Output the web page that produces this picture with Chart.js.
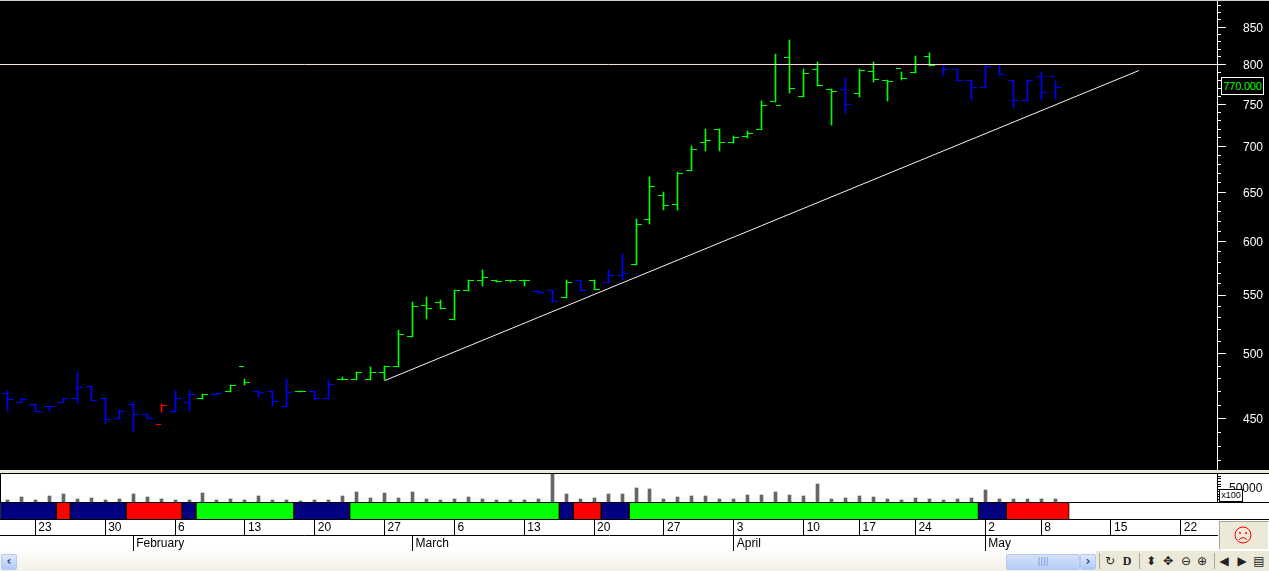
<!DOCTYPE html>
<html>
<head>
<meta charset="utf-8">
<title>Chart</title>
<script src="https://cdn.jsdelivr.net/npm/chart.js@4"></script>
<style>
    html, body { margin: 0; padding: 0; width: 1269px; height: 571px; overflow: hidden; background: #fff; font-family: "Liberation Sans", Arial, sans-serif; }
    canvas, .abs { position: absolute; display: block; }
    #priceBox { left: 1221px; top: 77px; width: 41px; height: 16px; border: 1px solid #fff; background: #000; color: #0f0; font-size: 11px; line-height: 16px; text-align: center; letter-spacing: -0.2px; }
    #unitBox { left: 1219px; top: 489px; width: 22px; height: 11px; border: 1px solid #000; background: #fff; color: #000; font-size: 9px; line-height: 11px; text-align: center; }
    #band { left: 0; top: 502px; width: 1269px; height: 18px; box-sizing: border-box; border-top: 1px solid #000; border-bottom: 1px solid #000; background: #fff; }
    #face { left: 1219px; top: 521px; width: 48px; height: 27px; background: #ece9d8; border: 1px solid; border-color: #aca899 #fff #fff #aca899; }
    #scroll { left: 0; top: 551px; width: 1096px; height: 20px; background: linear-gradient(#fdfdfb, #f1efe6); }
    #tools { left: 1096px; top: 551px; width: 173px; height: 20px; background: #ece9d8; }
    .btn { top: 3px; width: 14px; height: 14px; border: 1px solid #b4c8f0; border-radius: 2px; background: linear-gradient(#dfe8fc, #b0c8f6); color: #2a4a8a; font: bold 12px/13px "DejaVu Sans", sans-serif; text-align: center; }
    #thumb { left: 1006px; top: 3px; width: 72px; height: 14px; border: 1px solid #b4c8f0; border-radius: 2px; background: linear-gradient(#d4e0fb, #b8cdf8); color: #6f8fd0; font: 8px/14px "DejaVu Sans", sans-serif; text-align: center; }
    .tool { top: 0; width: 16px; height: 20px; color: #222; font: 12px/20px "DejaVu Sans", sans-serif; text-align: center; }
    .sep { top: 2px; width: 1px; height: 16px; background: #aca899; }
</style>
</head>
<body>
    <canvas id="priceChart" width="1269" height="470" style="left:0;top:0;background:#000"></canvas>
    <div class="abs" style="left:0;top:0;width:1269px;height:1px;background:#d4d0c8"></div>
    <div class="abs" style="left:0;top:470px;width:1269px;height:3px;background:#ece9d8"></div>
    <div class="abs" style="left:0;top:473px;width:1269px;height:1px;background:#000"></div>
    <div class="abs" style="left:0;top:473px;width:1px;height:47px;background:#000"></div>
    <canvas id="volumeChart" width="1269" height="28" style="left:0;top:474px"></canvas>
    <div class="abs" id="band"><canvas id="bandChart" width="1269" height="16" style="left:0;top:0"></canvas></div>
    <canvas id="dateChart" width="1218" height="33" style="left:0;top:518px"></canvas>
    <div class="abs" id="priceBox">770.000</div>
    <div class="abs" id="unitBox">x100</div>
    <div class="abs" id="face">
        <svg width="48" height="27" style="display:block">
            <circle cx="23" cy="13" r="8" fill="none" stroke="#f00"/>
            <circle cx="20" cy="11" r="1" fill="#f00"/>
            <circle cx="26" cy="11" r="1" fill="#f00"/>
            <path d="M19 18 Q23 13 27 18" fill="none" stroke="#f00"/>
        </svg>
    </div>
    <div class="abs" id="scroll">
        <div class="abs btn" style="left:1px">‹</div>
        <div class="abs" id="thumb">||||</div>
        <div class="abs btn" style="left:1080px">›</div>
    </div>
    <div class="abs" id="tools">
        <div class="abs sep" style="left:3px"></div>
        <div class="abs tool" style="left:6px">↻</div>
        <div class="abs tool" style="left:23px;font-family:'Liberation Serif',serif;font-weight:bold">D</div>
        <div class="abs sep" style="left:43px"></div>
        <div class="abs tool" style="left:47px">⬍</div>
        <div class="abs tool" style="left:64px">✥</div>
        <div class="abs tool" style="left:82px">⊖</div>
        <div class="abs tool" style="left:98px">⊕</div>
        <div class="abs sep" style="left:118px"></div>
        <div class="abs tool" style="left:120px">◀</div>
        <div class="abs tool" style="left:138px">▶</div>
        <div class="abs tool" style="left:155px">▤</div>
    </div>

<script>
    // daily bars
    const opens = [
        468.7, 461.9, 460.4, 458.9, 461.9, 464.9, 474.0, 464.9, 450, 460.4,
        452.9, 445.6, 455.2, 461.9, 464.9, 468.0, 470.2, 489.6, 470.2, 470.2,
        458.9, 470.2, 470.2, 464.9, 479.4, 479.4, 479.4, 484.9, 489.6, 514.0,
        540.7, 543.4, 528.5, 554.1, 563.2, 563.2, 563.2, 563.2, 553.2, 554.1,
        547.8, 563.2, 563.2, 561.4, 567.8, 578.0, 621.8, 646.5, 637.2, 673.4,
        704.8, 719.8, 704.8, 711.7, 719.8, 753.3, 809.1, 759.5, 793.5, 768.1,
        768.1, 763.2, 791, 779.5, 794.8, 789.7, 810.5, 800, 793.5, 779.5,
        770.6, 800, 779.5, 754.5, 784.6, 784.6
    ];
    const closes = [
        464.1, 464.1, 455.2, 458.9, 464.9, 473.2, 463.4, 449.3, 455.2, 452.9,
        450, 459.6, 464.9, 468.0, 468.0, 468.7, 474.8, 477.1, 469.4, 462.6,
        469.4, 470.2, 464.9, 475.6, 479.4, 484.9, 484.9, 489.6, 515.6, 539.8,
        538.1, 538.1, 554.1, 563.2, 565.9, 562.3, 563.2, 563.2, 552.3, 544.3,
        561.4, 554.1, 555.0, 567.8, 569.6, 616.8, 656.1, 636.1, 670.2, 696.8,
        707.1, 704.8, 710.5, 715.2, 748.4, 748.4, 769.4, 788.4, 773.1, 765.7,
        749.6, 792.2, 780.7, 778.2, 782.0, null, 798.7, 793.5, 779.5, 770.6,
        797.4, 787.1, 754.5, 779.5, 764.4, 770.6
    ];
    const highs = [
        470.2, 464.9, 460.4, 458.9, 464.9, 484.9, 474.0, 464.9, 455.9, 461.9,
        452.9, 460.4, 470.2, 470.2, 468.0, 468.7, 474.8, 479.4, 470.2, 470.2,
        479.4, 470.2, 470.2, 478.6, 481.0, 484.9, 488.9, 489.6, 519.0, 543.4,
        547.8, 545.1, 554.1, 563.2, 572.4, 563.2, 563.2, 563.2, 553.2, 554.1,
        563.2, 563.2, 563.2, 572.4, 587.5, 621.8, 665.8, 649.8, 671.2, 700.2,
        719.8, 719.8, 711.7, 717.5, 753.3, 813.1, 831.8, 793.5, 802.6, 768.1,
        782.0, 793.5, 802.6, 779.5, 789.7, 810.5, 814.4, 798.7, 793.5, 779.5,
        797.4, 798.7, 779.5, 779.5, 789.7, 778.2
    ];
    const lows = [
        455.9, 461.9, 455.2, 455.9, 461.9, 461.9, 463.4, 446.4, 450, 441.3,
        450, 455.2, 455.2, 455.9, 464.9, 468.0, 470.2, 475.6, 466.4, 459.6,
        458.9, 470.2, 464.1, 464.9, 479.4, 479.4, 479.4, 479.4, 489.6, 514.0,
        529.4, 538.1, 528.5, 554.1, 558.7, 562.3, 562.3, 558.7, 551.4, 544.3,
        547.8, 554.1, 555.0, 561.4, 564.1, 578.0, 617.8, 632.0, 632.0, 673.4,
        695.7, 695.7, 704.8, 710.5, 719.8, 753.3, 764.4, 759.5, 773.1, 725.7,
        740.0, 759.5, 778.2, 754.5, 780.7, 789.7, 798.7, 785.8, 779.5, 755.8,
        770.6, 787.1, 746.0, 754.5, 755.8, 757.0
    ];
    const barStates = [
        'd', 'd', 'd', 'd', 'd', 'd', 'd', 'd', 'd', 'd', 'd', 'x', 'd', 'd', 'u', 'd', 'u', 'u', 'd', 'd',
        'd', 'u', 'd', 'd', 'u', 'u', 'u', 'u', 'u', 'u', 'u', 'u', 'u', 'u', 'u', 'u', 'u', 'u', 'd', 'd',
        'u', 'd', 'u', 'd', 'd', 'u', 'u', 'u', 'u', 'u', 'u', 'u', 'u', 'u', 'u', 'u', 'u', 'u', 'u', 'u',
        'd', 'u', 'u', 'u', 'u', 'u', 'u', 'd', 'd', 'd', 'd', 'd', 'd', 'd', 'd', 'd'
    ];
    const volumes = [
        7800, 19500, 7800, 23400, 31100, 11700, 15600, 7800, 11700, 31100,
        19500, 11700, 7800, 7800, 35000, 7800, 11700, 7800, 23400, 7800,
        7800, 3900, 7800, 7800, 23400, 38900, 15600, 35000, 15600, 38900,
        11700, 7800, 11700, 19500, 11700, 7800, 7800, 7800, 11700, 109000,
        31100, 11700, 15600, 31100, 31100, 54500, 50600, 11700, 19500, 23400,
        23400, 11700, 11700, 27300, 27300, 38900, 27300, 23400, 70100, 11700,
        15600, 23400, 19500, 11700, 7800, 15600, 11700, 7800, 11700, 15600,
        46700, 11700, 11700, 11700, 11700, 11700
    ];

    // trend line and resistance level, as [bar index, price]
    const trendIndex = [27, 81];
    const trendPrice = [478.6, 792.2];
    const levelIndex = [-0.53, 86.59];
    const levelPrice = [800, 800];

    const priceTicks = [450, 500, 550, 600, 650, 700, 750, 800, 850];
    const priceMinorTicks = [420, 430, 440, 460, 470, 480, 490, 510, 520, 530, 540, 560, 570, 580, 590, 610, 620, 630, 640,
        660, 670, 680, 690, 710, 720, 730, 740, 760, 770, 780, 790, 810, 820, 830, 840, 860, 870, 880];
    const volumeTicks = [50000];
    const volumeMinorTicks = [10000, 20000, 30000, 40000, 60000, 70000, 80000, 90000, 100000];

    const bandDays = [4, 1, 4, 4, 1, 7, 4, 15, 1, 2, 2, 25, 2, 4.5];
    const bandStates = ['d', 'x', 'd', 'x', 'd', 'u', 'd', 'u', 'd', 'x', 'd', 'u', 'd', 'x'];

    const dayTickIndex = [2, 7, 12, 17, 22, 27, 32, 37, 42, 47, 52, 57, 61, 65, 70, 74, 79, 84];
    const dayLabels = ['23', '30', '6', '13', '20', '27', '6', '13', '20', '27', '3', '10', '17', '24', '2', '8', '15', '22'];
    const monthTickIndex = [9, 29, 52, 70];
    const monthLabels = ['February', 'March', 'April', 'May'];

    const barColors = { u: '#00ff00', d: '#0000ff', x: '#ff0000' };
    const bandColors = { u: '#00ff00', d: '#000080', x: '#ff0000' };

    const xMin = -0.53;
    const xMax = 86.59;

    Chart.defaults.font.family = '"Liberation Sans", Arial, sans-serif';
    Chart.defaults.font.size = 12;
    Chart.defaults.animation = false;
    Chart.defaults.responsive = false;
    Chart.defaults.events = [];
    Chart.defaults.plugins.legend.display = false;
    Chart.defaults.plugins.tooltip.enabled = false;

    function noPadding(scale) {
        scale.paddingTop = 0;
        scale.paddingBottom = 0;
        scale.paddingLeft = 0;
        scale.paddingRight = 0;
    }

    function rightAxisFit(scale) {
        scale.width = 52;
        noPadding(scale);
    }

    function setTicks(values) {
        return (scale) => {
            scale.ticks = values.map((v) => ({ value: v }));
        };
    }

    function hiddenX() {
        return { type: 'linear', min: xMin, max: xMax, offset: false, display: false };
    }

    // short ticks the axis cannot do by itself, it has only one tick length
    function minorTicks(values, color) {
        return {
            id: 'minorTicks',
            afterDraw(chart) {
                const ctx = chart.ctx;
                const scale = chart.scales.y;
                ctx.fillStyle = color;
                values.forEach((v) => {
                    ctx.fillRect(scale.left, Math.floor(scale.getPixelForValue(v)), 4, 1);
                });
            }
        };
    }

    // the original is not antialiased, so put the bars on whole pixels
    const snapWicks = {
        id: 'snapWicks',
        beforeDatasetsDraw(chart) {
            chart.getDatasetMeta(0).data.forEach((el) => {
                el.x = Math.floor(el.x) + 0.5;
                el.y = Math.floor(el.y);
                el.base = Math.floor(el.base) + 1;
            });
        }
    };

    const snapVolume = {
        id: 'snapVolume',
        beforeDatasetsDraw(chart) {
            chart.getDatasetMeta(0).data.forEach((el) => {
                el.x = Math.floor(el.x) + 0.5;
                el.y = Math.round(el.y);
                el.base = Math.round(el.base);
            });
        }
    };

    const openCloseTicks = {
        id: 'openCloseTicks',
        beforeDatasetsDraw(chart) {
            const ctx = chart.ctx;
            const x = chart.scales.x;
            const y = chart.scales.y;
            opens.forEach((open, i) => {
                const cx = Math.floor(x.getPixelForValue(i));
                ctx.fillStyle = barColors[barStates[i]];
                ctx.fillRect(cx - 5, Math.floor(y.getPixelForValue(open)), 5, 1);
                if (closes[i] !== null) {
                    ctx.fillRect(cx + 1, Math.floor(y.getPixelForValue(closes[i])), 5, 1);
                }
            });
        }
    };

    new Chart(document.getElementById('priceChart'), {
        type: 'bar',
        data: {
            datasets: [{
                label: 'Range',
                data: highs.map((h, i) => ({ x: i, y: [lows[i], h] })),
                backgroundColor: barStates.map((s) => barColors[s]),
                barThickness: 1,
                order: 2,
            }, {
                type: 'line',
                label: 'Trend',
                data: trendIndex.map((x, i) => ({ x: x, y: trendPrice[i] })),
                borderColor: '#ffeeee',
                borderWidth: 1,
                pointRadius: 0,
                order: 1,
            }, {
                type: 'line',
                label: 'Level',
                data: levelIndex.map((x, i) => ({ x: x, y: levelPrice[i] })),
                borderColor: '#ffe6dc',
                borderWidth: 1,
                pointRadius: 0,
                order: 0,
            }]
        },
        options: {
            scales: {
                x: hiddenX(),
                y: {
                    type: 'logarithmic',
                    position: 'right',
                    min: 413.9,
                    max: 888.4,
                    afterBuildTicks: setTicks(priceTicks),
                    afterFit: rightAxisFit,
                    border: { color: '#fff' },
                    grid: { drawOnChartArea: false, tickLength: 9, tickColor: '#fff' },
                    ticks: {
                        color: '#fff',
                        padding: 17,
                        labelOffset: 1,
                        autoSkip: false,
                        callback: (value) => String(value),
                    }
                }
            }
        },
        plugins: [snapWicks, openCloseTicks, minorTicks(priceMinorTicks, '#fff')]
    });

    new Chart(document.getElementById('volumeChart'), {
        type: 'bar',
        data: {
            datasets: [{
                label: 'Volume',
                data: volumes.map((v, i) => ({ x: i, y: v })),
                backgroundColor: '#666666',
                barThickness: 3,
            }]
        },
        options: {
            scales: {
                x: hiddenX(),
                y: {
                    position: 'right',
                    min: 0,
                    max: 109000,
                    afterBuildTicks: setTicks(volumeTicks),
                    afterFit: rightAxisFit,
                    border: { color: '#000' },
                    grid: { drawOnChartArea: false, tickLength: 9, tickColor: '#000' },
                    ticks: {
                        color: '#000',
                        padding: 3,
                        autoSkip: false,
                        callback: (value) => String(value),
                    }
                }
            }
        },
        plugins: [snapVolume, minorTicks(volumeMinorTicks, '#000')]
    });

    new Chart(document.getElementById('bandChart'), {
        type: 'bar',
        data: {
            labels: [''],
            datasets: bandDays.map((days, i) => ({
                data: [days],
                backgroundColor: bandColors[bandStates[i]],
                borderColor: '#000',
                borderWidth: { left: 1, right: 1, top: 0, bottom: 0 },
                borderSkipped: false,
                barPercentage: 1,
                categoryPercentage: 1,
            }))
        },
        options: {
            indexAxis: 'y',
            scales: {
                x: { type: 'linear', stacked: true, min: -0.03, max: 90.8, display: false },
                y: { stacked: true, display: false }
            }
        }
    });

    function dateAxis(weight, tickIndex, labels) {
        return {
            type: 'linear',
            axis: 'x',
            position: 'bottom',
            weight: weight,
            min: xMin,
            max: 86.66,
            offset: false,
            afterBuildTicks: setTicks(tickIndex),
            afterFit: (scale) => {
                scale.height = 16;
                noPadding(scale);
            },
            border: { color: '#000' },
            grid: { drawOnChartArea: false, tickLength: 16, tickColor: '#000' },
            ticks: {
                color: '#000',
                align: 'start',
                padding: -15,
                labelOffset: 3,
                autoSkip: false,
                maxRotation: 0,
                callback: (value, index) => labels[index],
            }
        };
    }

    new Chart(document.getElementById('dateChart'), {
        type: 'line',
        data: { datasets: [] },
        options: {
            scales: {
                days: dateAxis(0, dayTickIndex, dayLabels),
                months: dateAxis(1, monthTickIndex, monthLabels),
                y: { display: false }
            }
        }
    });
</script>
</body>
</html>
